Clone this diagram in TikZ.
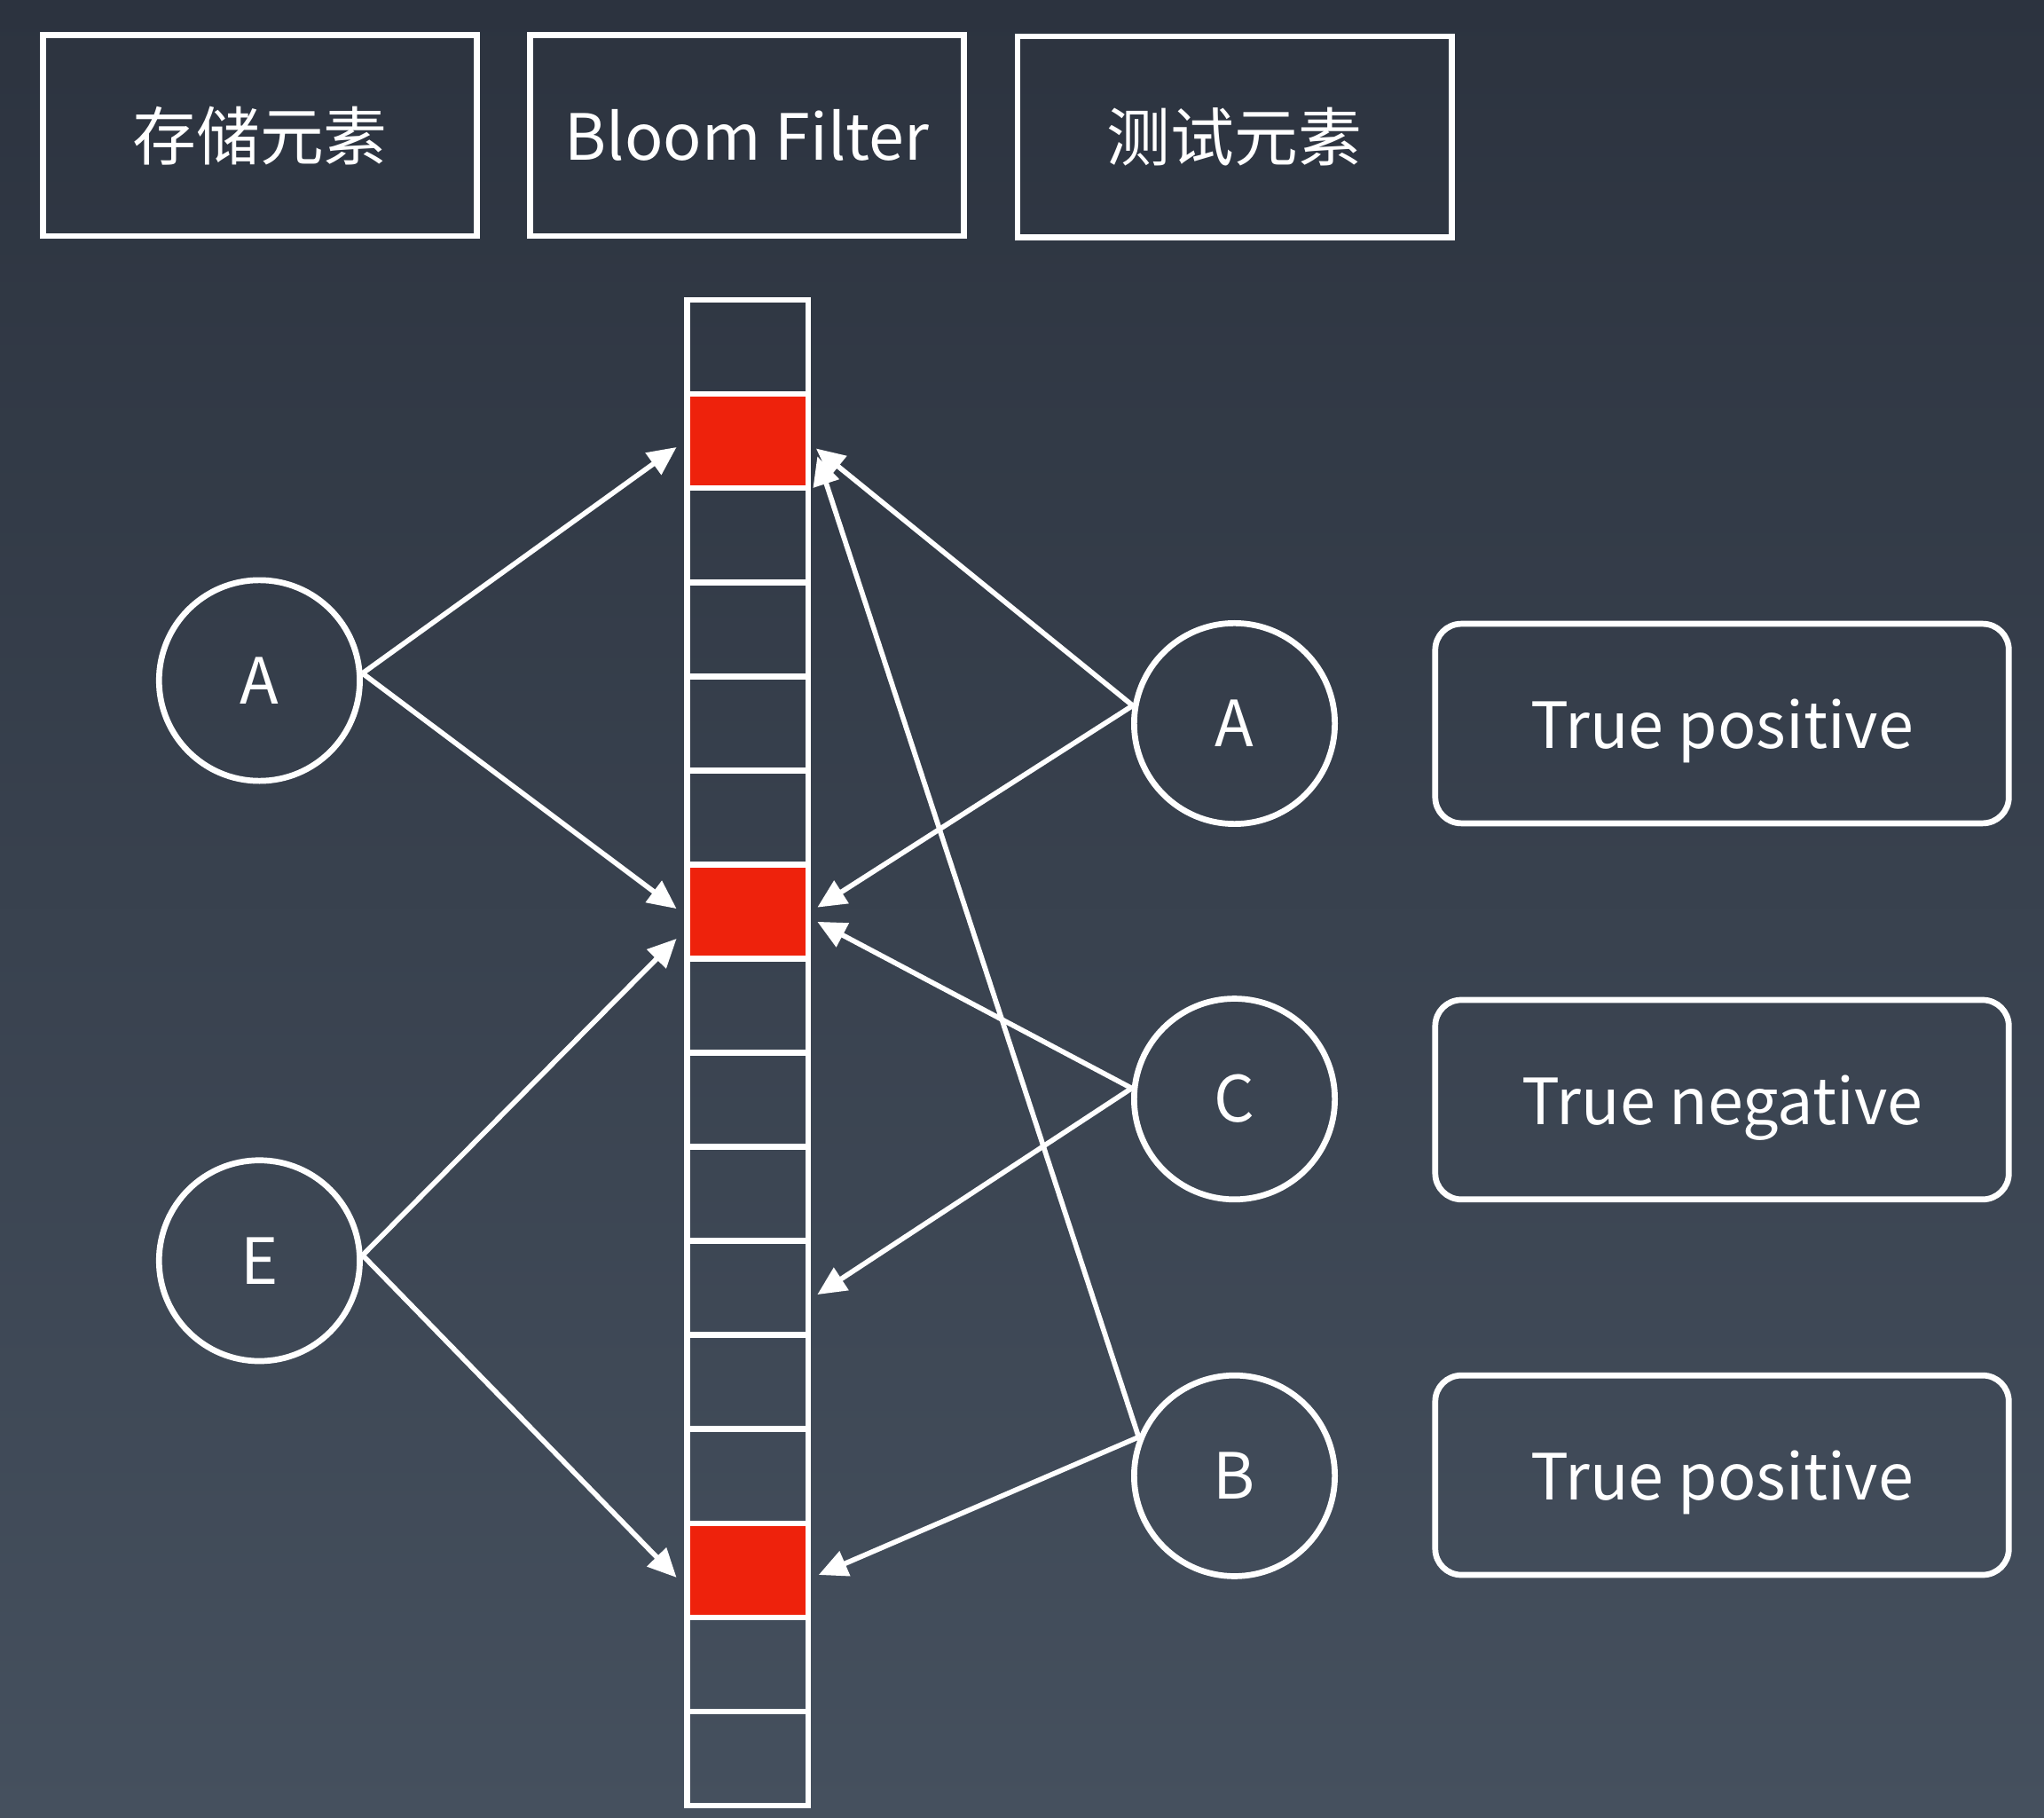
\documentclass[tikz,border=0pt]{standalone}
\usepackage{fontspec}
\setmainfont{Noto Sans CJK SC}
\usetikzlibrary{arrows.meta}
\definecolor{bgtop}{RGB}{44,51,63}
\definecolor{bgbot}{RGB}{69,80,94}
\definecolor{bitred}{RGB}{238,34,12}
\begin{document}
\begin{tikzpicture}[x=0.1mm,y=-0.1mm,
  every node/.style={text=white},
  lbl/.style={font=\fontsize{13.9pt}{16pt}\selectfont},
  headbox/.style={draw=white,line width=1.3pt,minimum width=33.3mm,minimum height=15.4mm,inner sep=0pt,lbl},
  resbox/.style={draw=white,line width=1.3pt,rounded corners=2mm,minimum width=44mm,minimum height=15.3mm,inner sep=0pt,text depth=0pt,lbl},
  elem/.style={circle,draw=white,line width=1.3pt,minimum size=15.4mm,inner sep=0pt,lbl},
  cellbox/.style={draw=white,line width=1.3pt,minimum width=9.3mm,minimum height=7.21875mm,inner sep=0pt},
  setbit/.style={cellbox,fill=bitred},
  arr/.style={draw=white,line width=1.1pt,-{Triangle[length=2.2mm,width=2mm]}}]
\useasboundingbox (0,0) rectangle (1568,1394);
\fill[top color=bgtop,bottom color=bgbot] (0,0) rectangle (1568,1394);
% header boxes
\node[headbox] (h1) at (199.5,104) {存储元素};
\node[headbox] (h2) at (573,104) {Bloom Filter};
\node[headbox] (h3) at (947,105) {测试元素};
% bit array
\foreach \i in {0,...,15}{
  \node[cellbox] (cell\i) at (573.5,{266.1+72.1875*\i}) {};
}
\node[setbit] at (cell1) {};
\node[setbit] at (cell6) {};
\node[setbit] at (cell13) {};
% elements
\node[elem] (lA) at (199,522) {A};
\node[elem] (lE) at (199,967) {E};
\node[elem] (rA) at (947,555) {A};
\node[elem] (rC) at (947,843) {C};
\node[elem] (rB) at (947,1132) {B};
% result boxes
\node[resbox] (p1) at (1321,555) {True positive};
\node[resbox] (p2) at (1321,843.5) {True negative};
\node[resbox] (p3) at (1321,1131.5) {True positive};
% arrow targets
\coordinate (tA1) at (519,343);
\coordinate (tA6) at (519,697);
\coordinate (tE6) at (519,720);
\coordinate (tE13) at (519,1210);
\coordinate (uA1) at (626,344);
\coordinate (uA6) at (627,696);
\coordinate (uC6) at (627,707);
\coordinate (uC10) at (627,993);
\coordinate (uB1) at (627,350);
\coordinate (uB13) at (628,1208);
% arrows
\draw[arr] (lA.4) -- (tA1);
\draw[arr] (lA.4) -- (tA6);
\draw[arr] (lE.3) -- (tE6);
\draw[arr] (lE.3) -- (tE13);
\draw[arr] (rA.170) -- (uA1);
\draw[arr] (rA.170) -- (uA6);
\draw[arr] (rC.174) -- (uC6);
\draw[arr] (rC.174) -- (uC10);
\draw[arr] (rB.158) -- (uB1);
\draw[arr] (rB.158) -- (uB13);
\end{tikzpicture}
\end{document}
